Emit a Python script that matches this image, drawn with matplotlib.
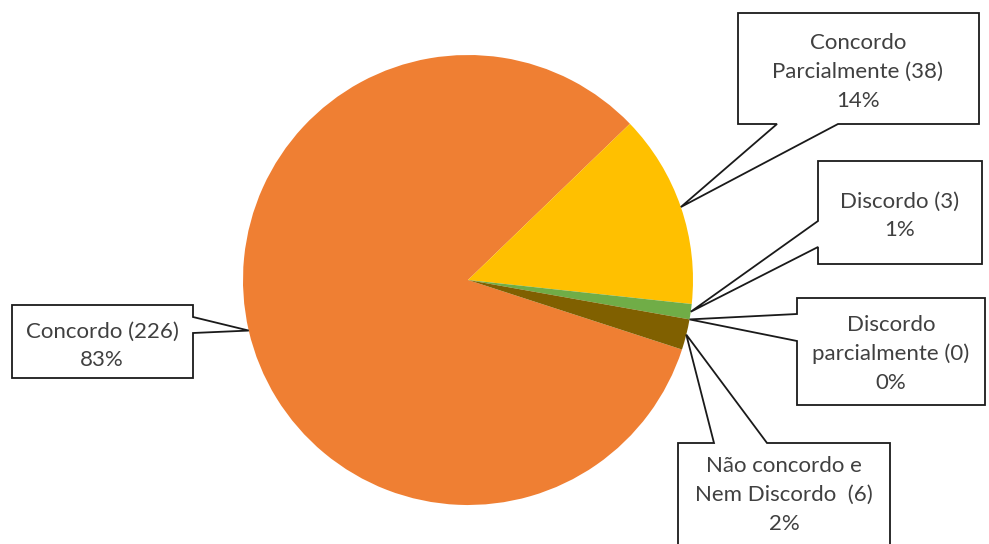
import numpy as np
import matplotlib
matplotlib.use("Agg")
import matplotlib.pyplot as plt
from matplotlib.patches import Polygon

# respostas por categoria
rotulos = ["Concordo", "Concordo\nParcialmente", "Discordo",
           "Discordo\nparcialmente", "Não concordo e\nNem Discordo "]
respostas = [226, 38, 3, 0, 6]
cores = ["#EF7F33", "#FFC000", "#70AD47", "#A5A5A5", "#806000"]

# caixas dos rotulos: (x0, y0, x1, y1), lado do ponteiro, base do ponteiro
caixas = [
    ((12, 305, 193, 378), "right", (317, 333)),
    ((738, 13, 979, 124), "bottom", (777, 838)),
    ((818, 161, 982, 264), "left", (221, 247)),
    ((797, 298, 985, 405), "left", (314, 341)),
    ((678, 443, 890, 580), "top", (714, 767)),
]
centros_texto = [(102, 346), (858, 72), (900, 216), (891, 354), (784, 495)]

centro = (468, 280)
raio = 225

fig = plt.figure(figsize=(9.89, 5.44), dpi=100)
ax = fig.add_axes([0, 0, 1, 1])

fatias, _ = ax.pie(respostas, colors=cores, startangle=18, counterclock=True,
                   center=centro, radius=raio, frame=True,
                   wedgeprops=dict(linewidth=0))
ax.set_xlim(0, 989)
ax.set_ylim(544, 0)
ax.set_aspect("equal")
ax.axis("off")

total = sum(respostas)


def forma_caixa(caixa, lado, base, ponta):
    x0, y0, x1, y1 = caixa
    b0, b1 = base
    if lado == "right":
        return [(x0, y0), (x1, y0), (x1, b0), ponta, (x1, b1), (x1, y1), (x0, y1)]
    if lado == "left":
        return [(x0, y0), (x1, y0), (x1, y1), (x0, y1), (x0, b1), ponta, (x0, b0)]
    if lado == "bottom":
        return [(x0, y0), (x1, y0), (x1, y1), (b1, y1), ponta, (b0, y1), (x0, y1)]
    return [(x0, y0), (b0, y0), ponta, (b1, y0), (x1, y0), (x1, y1), (x0, y1)]


for fatia, rotulo, n, (caixa, lado, base), (tx, ty) in zip(
        fatias, rotulos, respostas, caixas, centros_texto):
    meio = np.deg2rad((fatia.theta1 + fatia.theta2) / 2)
    ponta = (centro[0] + raio * np.cos(meio), centro[1] + raio * np.sin(meio))
    ax.add_patch(Polygon(forma_caixa(caixa, lado, base, ponta), closed=True,
                         facecolor="white", edgecolor="#1a1a1a", linewidth=1.3,
                         zorder=3))
    pct = round(100 * n / total)
    ax.text(tx, ty, f"{rotulo} ({n})\n{pct}%", ha="center", va="center",
            fontsize=16, family="Lato", color="#404040", linespacing=1.55,
            zorder=4)

plt.savefig("out.png", dpi=100)
